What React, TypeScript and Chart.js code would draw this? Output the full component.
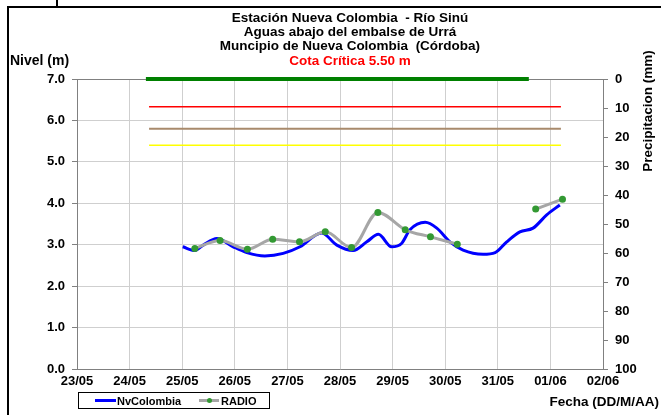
import React, { useEffect, useRef } from "react";
import { Chart, registerables } from "chart.js";

Chart.register(...registerables);

// ---- data ----
const dateLabels = ["23/05", "24/05", "25/05", "26/05", "27/05", "28/05", "29/05", "30/05", "31/05", "01/06", "02/06"];
const levelTickLabels = ["0.0", "1.0", "2.0", "3.0", "4.0", "5.0", "6.0", "7.0"];
const precipTickLabels = ["0", "10", "20", "30", "40", "50", "60", "70", "80", "90", "100"];

// days counted from 23/05 00:00
const nvDays = [2.01, 2.24, 2.4, 2.66, 2.97, 3.23, 3.57, 3.92, 4.24, 4.65, 4.94, 5.25, 5.51, 5.73, 5.98, 6.17, 6.33, 6.62, 6.84, 7.09, 7.34, 7.72, 7.95, 8.17, 8.42, 8.67, 8.93, 9.18];
const nvLevels = [2.95, 2.86, 2.99, 3.15, 2.95, 2.81, 2.73, 2.79, 2.95, 3.28, 2.99, 2.86, 3.07, 3.25, 2.95, 3.03, 3.36, 3.54, 3.4, 3.07, 2.87, 2.77, 2.81, 3.07, 3.31, 3.4, 3.72, 3.96];

const radioDays = [2.24, 2.72, 3.24, 3.72, 4.23, 4.72, 5.22, 5.72, 6.24, 6.72, 7.23, 7.72, 8.23, 8.72, 9.23];
const radioLevels: (number | null)[] = [2.91, 3.1, 2.89, 3.13, 3.07, 3.31, 2.93, 3.78, 3.36, 3.19, 3.01, null, null, 3.86, 4.1];

const precipDays = [1.31, 8.59];
const precipValues = [0, 0];

const thresholdDays = [1.37, 9.2];
const redLevel = [6.33, 6.33];
const brownLevel = [5.8, 5.8];
const yellowLevel = [5.4, 5.4];

const FONT = "Arial, 'Liberation Sans', sans-serif";

const pts = (xs: number[], ys: (number | null)[]) => xs.map((x, i) => ({ x, y: ys[i] }));

export default function App() {
  const ref = useRef<HTMLCanvasElement>(null);

  useEffect(() => {
    const tickFont = { family: FONT, size: 13, weight: "bold" as const };
    const chart = new Chart(ref.current!, {
      type: "line",
      data: {
        datasets: [
          {
            label: "RADIO",
            data: pts(radioDays, radioLevels),
            borderColor: "#a6a6a6",
            backgroundColor: "#339933",
            pointBackgroundColor: "#339933",
            pointBorderColor: "#339933",
            pointRadius: 2,
            borderWidth: 3,
            cubicInterpolationMode: "monotone",
            spanGaps: false,
            order: 0,
            yAxisID: "y",
          },
          {
            label: "NvColombia",
            data: pts(nvDays, nvLevels),
            borderColor: "#0000ff",
            pointRadius: 0,
            borderWidth: 3,
            cubicInterpolationMode: "monotone",
            order: 1,
            yAxisID: "y",
          },
          {
            label: "Precipitacion",
            data: pts(precipDays, precipValues),
            borderColor: "#008000",
            pointRadius: 0,
            borderWidth: 4,
            clip: false,
            order: 2,
            yAxisID: "y2",
          },
          {
            label: "Rojo",
            data: pts(thresholdDays, redLevel),
            borderColor: "#ff0000",
            pointRadius: 0,
            borderWidth: 1.5,
            order: 3,
            yAxisID: "y",
          },
          {
            label: "Naranja",
            data: pts(thresholdDays, brownLevel),
            borderColor: "#a88a6c",
            pointRadius: 0,
            borderWidth: 2,
            order: 3,
            yAxisID: "y",
          },
          {
            label: "Amarillo",
            data: pts(thresholdDays, yellowLevel),
            borderColor: "#ffff00",
            pointRadius: 0,
            borderWidth: 1.5,
            order: 3,
            yAxisID: "y",
          },
        ],
      },
      options: {
        animation: false,
        responsive: false,
        maintainAspectRatio: false,
        layout: { padding: { top: 79, left: 0, right: 0, bottom: 0 } },
        plugins: { legend: { display: false }, tooltip: { enabled: false } },
        scales: {
          x: {
            type: "linear",
            min: 0,
            max: dateLabels.length - 1,
            afterBuildTicks: (s: any) => {
              s.ticks = dateLabels.map((_, i) => ({ value: i }));
            },
            ticks: {
              callback: (v: any) => dateLabels[Math.round(Number(v))],
              font: tickFont,
              color: "#000",
              padding: 5,
              maxRotation: 0,
              autoSkip: false,
            },
            grid: { color: "#cfcfcf", drawTicks: false, lineWidth: 1 },
            border: { color: "#808080", width: 1 },
            afterFit: (s: any) => {
              s.height = 46;
            },
          },
          y: {
            type: "linear",
            position: "left",
            min: 0,
            max: levelTickLabels.length - 1,
            ticks: {
              stepSize: 1,
              callback: (v: any) => levelTickLabels[Math.round(Number(v))],
              font: tickFont,
              color: "#000",
              padding: 7,
            },
            grid: {
              color: (ctx: any) => (ctx.tick && ctx.tick.value === 7 ? "#808080" : "#cfcfcf"),
              tickColor: "#808080",
              tickLength: 5,
            },
            border: { color: "#808080", width: 1 },
            afterFit: (s: any) => {
              s.width = 77;
            },
          },
          y2: {
            type: "linear",
            position: "right",
            reverse: true,
            min: 0,
            max: 100,
            ticks: {
              stepSize: 10,
              callback: (v: any) => precipTickLabels[Math.round(Number(v) / 10)],
              font: tickFont,
              color: "#000",
              padding: 7,
            },
            grid: { drawOnChartArea: false, tickColor: "#808080", tickLength: 5 },
            border: { color: "#808080", width: 1 },
            afterFit: (s: any) => {
              s.width = 58;
            },
          },
        },
      },
    } as any);
    return () => chart.destroy();
  }, []);

  const txt: React.CSSProperties = {
    position: "absolute",
    fontFamily: FONT,
    fontWeight: "bold",
    fontSize: 13.5,
    whiteSpace: "nowrap",
    lineHeight: "14px",
    color: "#000",
  };

  return (
    <div
      style={{
        position: "fixed",
        left: 0,
        top: 0,
        width: 661,
        height: 415,
        background: "#fff",
        overflow: "hidden",
      }}
    >
      <canvas ref={ref} width={661} height={415} style={{ position: "absolute", left: 0, top: 0, width: 661, height: 415 }} />
      {/* frame */}
      <div style={{ position: "absolute", left: 7, top: 6, width: 800, height: 600, borderLeft: "2.5px solid #000", borderTop: "2.5px solid #000" }} />
      <div style={{ position: "absolute", left: 56, top: 0, width: 2, height: 7, background: "#000" }} />
      {/* titles */}
      <div style={{ ...txt, left: 0, width: 700, top: 11, textAlign: "center" }}>Estación Nueva Colombia&nbsp; - Río Sinú</div>
      <div style={{ ...txt, left: 0, width: 700, top: 25, textAlign: "center" }}>Aguas abajo del embalse de Urrá</div>
      <div style={{ ...txt, left: 0, width: 700, top: 39, textAlign: "center" }}>Muncipio de Nueva Colombia&nbsp; (Córdoba)</div>
      <div style={{ ...txt, left: 0, width: 700, top: 54, textAlign: "center", color: "#ff0000" }}>Cota Crítica 5.50 m</div>
      <div style={{ ...txt, fontSize: 14, left: 10, top: 53 }}>Nivel (m)</div>
      <div
        style={{
          ...txt,
          fontSize: 13.5,
          left: 648,
          top: 111,
          transform: "translate(-50%, -50%) rotate(-90deg)",
        }}
      >
        Precipitacion (mm)
      </div>
      <div style={{ ...txt, right: 2, top: 395 }}>Fecha (DD/M/AA)</div>
      {/* legend */}
      <div
        style={{
          position: "absolute",
          left: 78,
          top: 392,
          width: 192,
          height: 17,
          border: "1px solid #000",
          boxSizing: "border-box",
          background: "#fff",
        }}
      >
        <div style={{ position: "absolute", left: 16, top: 6, width: 21, height: 3, background: "#0000ff" }} />
        <div style={{ ...txt, fontSize: 11, left: 38, top: 1 }}>NvColombia</div>
        <div style={{ position: "absolute", left: 120, top: 6, width: 20, height: 3, background: "#a6a6a6" }} />
        <div style={{ position: "absolute", left: 128, top: 5, width: 5, height: 5, borderRadius: 3, background: "#339933" }} />
        <div style={{ ...txt, fontSize: 11, left: 142, top: 1 }}>RADIO</div>
      </div>
    </div>
  );
}
